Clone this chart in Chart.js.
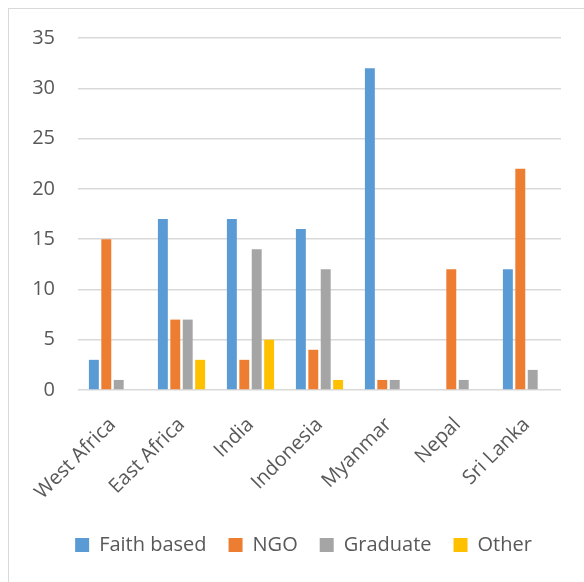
<!DOCTYPE html>
<html>
<head>
<meta charset="utf-8">
<script src="https://cdn.jsdelivr.net/npm/chart.js@4"></script>
<style>
  html, body { margin: 0; padding: 0; background: #ffffff; }
  #wrap { position: relative; width: 584px; height: 582px; overflow: hidden; }
  #frame { position: absolute; left: 8px; top: 8px; width: 640px; height: 640px;
           border: 1px solid #d9d9d9; box-sizing: border-box; }
  canvas { position: absolute; left: 0; top: 0; }
</style>
</head>
<body>
<div id="wrap">
  <div id="frame"></div>
  <canvas id="chart" width="584" height="582"></canvas>
</div>
<script>
// Regions on the category axis
const regions = ['West Africa', 'East Africa', 'India', 'Indonesia', 'Myanmar', 'Nepal', 'Sri Lanka'];

// Counts per organisation type
const faithBased = [3, 17, 17, 16, 32, 0, 12];
const ngo        = [15, 7, 3, 4, 1, 12, 22];
const graduate   = [1, 7, 14, 12, 1, 1, 2];
const other      = [0, 3, 5, 1, 0, 0, 0];

const seriesNames = ['Faith based', 'NGO', 'Graduate', 'Other'];
const seriesColors = ['#5b9bd5', '#ed7d31', '#a5a5a5', '#ffc000'];

// Value axis
const yMax = 35;
const yStep = 5;

const textColor = '#595959';
const fontFamily = '"Open Sans", "Noto Sans", sans-serif';

const datasets = [faithBased, ngo, graduate, other].map((values, i) => ({
  label: seriesNames[i],
  data: values,
  backgroundColor: seriesColors[i],
  borderWidth: 0,
  barPercentage: 0.8,
  categoryPercentage: 0.72
}));

// Nudge the legend row a little to the right of the canvas centre
const legendShift = {
  id: 'legendShift',
  afterLayout(chart) {
    if (chart.legend) {
      chart.legend.left += 7;
      chart.legend.right += 7;
    }
  }
};

new Chart(document.getElementById('chart'), {
  type: 'bar',
  data: { labels: regions, datasets },
  plugins: [legendShift],
  options: {
    responsive: false,
    animation: false,
    devicePixelRatio: 1,
    layout: { padding: { left: 32, right: 23, top: 38, bottom: 17 } },
    plugins: {
      tooltip: { enabled: false },
      legend: {
        position: 'bottom',
        labels: {
          color: textColor,
          font: { family: fontFamily, size: 20 },
          boxWidth: 14,
          boxHeight: 14,
          padding: 22
        }
      }
    },
    scales: {
      x: {
        grid: { display: false, drawTicks: false },
        border: { display: false },
        ticks: {
          color: textColor,
          font: { family: fontFamily, size: 20 },
          minRotation: 45,
          maxRotation: 45,
          padding: 23
        },
        afterFit(scale) {
          // rotated labels may overhang the plot edges; keep the plot area fixed
          scale.height = 123;
          scale.paddingLeft = 0;
          scale.paddingRight = 0;
        }
      },
      y: {
        min: 0,
        max: yMax,
        grid: { color: '#d9d9d9', lineWidth: 1.5, drawTicks: false },
        border: { display: false },
        ticks: {
          stepSize: yStep,
          color: textColor,
          font: { family: fontFamily, size: 20 },
          padding: 23
        },
        afterFit(scale) { scale.width = 46; }
      }
    }
  }
});
</script>
</body>
</html>
